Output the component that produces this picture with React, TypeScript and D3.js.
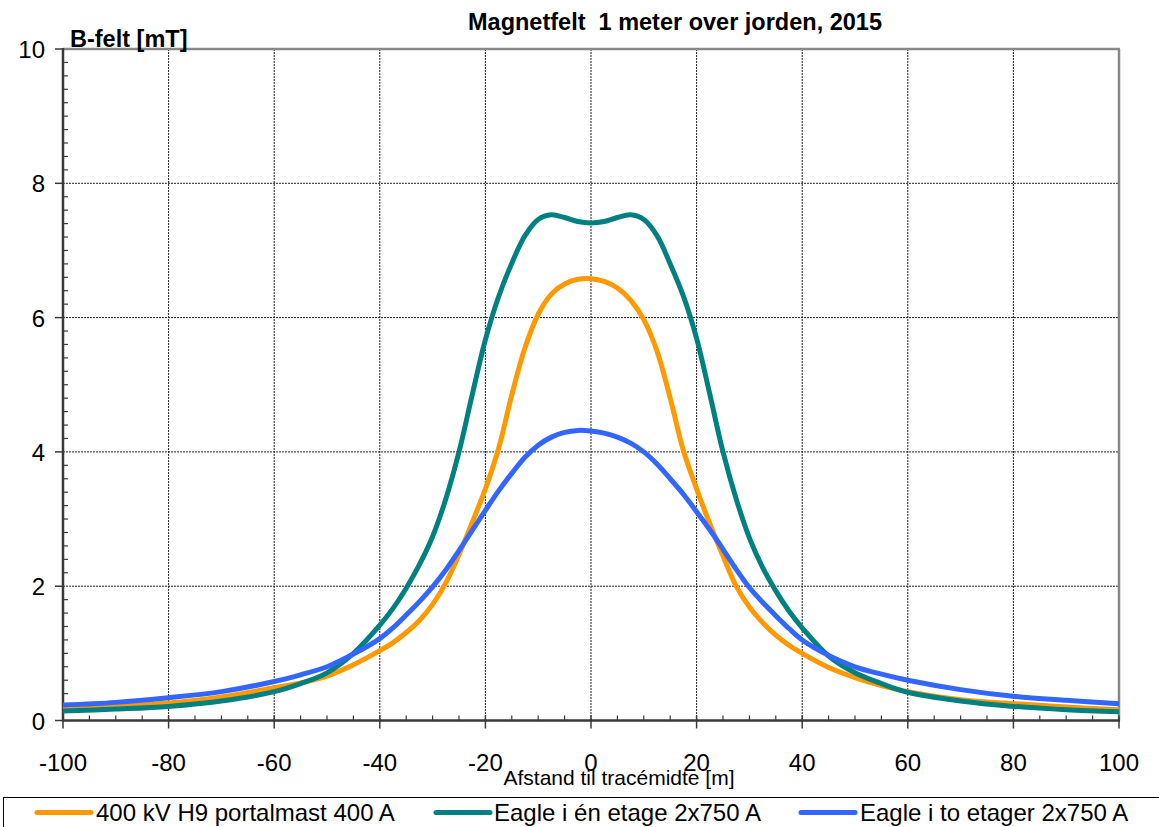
import React from 'react';
import * as d3 from 'd3';

const W = 1159;
const H = 827;

// Distance to line centre [m]
const distances = [-100, -90, -80, -70, -60, -55, -50, -45, -40, -37.5, -35, -32.5, -30, -27.5, -25, -22.5, -20, -17.5, -15, -12.5, -10, -7.5, -5, -2.5, 0, 2.5, 5, 7.5, 10, 12.5, 15, 17.5, 20, 22.5, 25, 27.5, 30, 32.5, 35, 37.5, 40, 45, 50, 55, 60, 70, 80, 90, 100];

// B-field [mT]
const portalmast = [0.17, 0.21, 0.26, 0.35, 0.49, 0.56, 0.66, 0.83, 1.04, 1.16, 1.31, 1.49, 1.73, 2.05, 2.47, 2.95, 3.45, 4.05, 4.85, 5.55, 6.05, 6.35, 6.5, 6.57, 6.58, 6.54, 6.44, 6.26, 5.97, 5.5, 4.8, 4.02, 3.45, 2.93, 2.45, 2.0, 1.69, 1.46, 1.27, 1.12, 1.0, 0.79, 0.64, 0.52, 0.43, 0.31, 0.25, 0.2, 0.16];
const eagleEnEtage = [0.14, 0.17, 0.21, 0.29, 0.43, 0.55, 0.71, 1.0, 1.42, 1.67, 1.97, 2.32, 2.74, 3.3, 4.0, 4.85, 5.67, 6.31, 6.81, 7.22, 7.46, 7.53, 7.49, 7.43, 7.41, 7.43, 7.49, 7.53, 7.46, 7.22, 6.8, 6.32, 5.69, 4.86, 4.0, 3.3, 2.72, 2.28, 1.93, 1.63, 1.38, 0.96, 0.71, 0.55, 0.42, 0.29, 0.21, 0.16, 0.13];
const eagleToEtager = [0.23, 0.27, 0.34, 0.43, 0.58, 0.68, 0.8, 0.99, 1.22, 1.38, 1.57, 1.77, 1.99, 2.24, 2.53, 2.83, 3.13, 3.42, 3.68, 3.92, 4.1, 4.22, 4.29, 4.32, 4.31, 4.28, 4.22, 4.13, 4.0, 3.82, 3.6, 3.37, 3.11, 2.84, 2.55, 2.25, 1.98, 1.76, 1.56, 1.37, 1.2, 0.97, 0.8, 0.69, 0.6, 0.46, 0.36, 0.3, 0.25];

const seriesNames = ['400 kV H9 portalmast 400 A', 'Eagle i én etage 2x750 A', 'Eagle i to etager 2x750 A'];
const seriesColors = ['#FF9900', '#008080', '#3366FF'];
const seriesValues = [portalmast, eagleEnEtage, eagleToEtager];

const xTicks = [-100, -80, -60, -40, -20, 0, 20, 40, 60, 80, 100];
const yTicks = [0, 2, 4, 6, 8, 10];

const titleText = 'Magnetfelt  1 meter over jorden, 2015';
const yTitle = 'B-felt [mT]';
const xTitle = 'Afstand til tracémidte [m]';

const FONT = '"Liberation Sans", Arial, Helvetica, sans-serif';

export default function App() {
  const x = d3.scaleLinear().domain([-100, 100]).range([63, 1119]);
  const y = d3.scaleLinear().domain([0, 10]).range([720.5, 49]);

  const xMinor = d3.range(-100, 100.001, 5).filter((v) => Math.abs(v % 20) > 1e-6);
  const yMinor = d3.range(0, 10.001, 0.2).filter((v) => Math.abs(v / 2 - Math.round(v / 2)) > 1e-6);

  const line = d3
    .line<number>()
    .x((_, i) => x(distances[i]))
    .y((d) => y(d))
    .curve(d3.curveCatmullRom.alpha(0.5));

  const [x0, x1] = x.range();
  const [y0, y1] = y.range();

  const legendItems = [
    { lx: 37, tx: 96 },
    { lx: 436, tx: 494 },
    { lx: 801, tx: 860 },
  ];

  return (
    <div style={{ position: 'absolute', left: 0, top: 0 }}>
      <svg width={W} height={H} style={{ display: 'block', background: '#fff' }} fontFamily={FONT}>
        <rect x={0} y={0} width={W} height={H} fill="#fff" />
        {/* grid */}
        {xTicks.slice(1, -1).map((t) => (
          <line key={'gx' + t} x1={x(t)} x2={x(t)} y1={y1} y2={y0} stroke="#222" strokeWidth={1} strokeDasharray="2,1" />
        ))}
        {yTicks.slice(1, -1).map((t) => (
          <line key={'gy' + t} x1={x0} x2={x1} y1={y(t)} y2={y(t)} stroke="#222" strokeWidth={1} strokeDasharray="2,1" />
        ))}
        {/* top & right border */}
        <line x1={x0} x2={x1 + 1} y1={y1} y2={y1} stroke="#888" strokeWidth={2.5} />
        <line x1={x1} x2={x1} y1={y1} y2={y0} stroke="#888" strokeWidth={2.5} />
        {/* y axis */}
        <line x1={x0} x2={x0} y1={y1 - 1} y2={y0 + 1} stroke="#3a3a3a" strokeWidth={2.5} />
        {yTicks.map((t) => (
          <line key={'yt' + t} x1={x0 - 8} x2={x0} y1={y(t)} y2={y(t)} stroke="#3a3a3a" strokeWidth={1.5} />
        ))}
        {yMinor.map((t) => (
          <line key={'ym' + t} x1={x0} x2={x0 + 5} y1={y(t)} y2={y(t)} stroke="#3a3a3a" strokeWidth={1.2} />
        ))}
        {yTicks.map((t) => (
          <text key={'yl' + t} x={45} y={y(t) + 9} textAnchor="end" fontSize={24} fill="#000">
            {t}
          </text>
        ))}
        {/* x axis */}
        <line x1={x0 - 1} x2={x1 + 1} y1={y0} y2={y0} stroke="#3a3a3a" strokeWidth={2.5} />
        {xTicks.map((t) => (
          <line key={'xt' + t} x1={x(t)} x2={x(t)} y1={y0 - 5} y2={y0 + 8} stroke="#3a3a3a" strokeWidth={1.5} />
        ))}
        {xMinor.map((t) => (
          <line key={'xm' + t} x1={x(t)} x2={x(t)} y1={y0 - 5} y2={y0} stroke="#3a3a3a" strokeWidth={1.2} />
        ))}
        {xTicks.map((t) => (
          <text key={'xl' + t} x={x(t)} y={771} textAnchor="middle" fontSize={24} fill="#000">
            {t}
          </text>
        ))}
        {/* series */}
        {seriesValues.map((vals, i) => (
          <path
            key={'s' + i}
            d={line(vals) || ''}
            fill="none"
            stroke={seriesColors[i]}
            strokeWidth={5}
            strokeLinejoin="round"
          />
        ))}
        {/* titles */}
        <text
          x={675}
          y={30}
          textAnchor="middle"
          fontSize={23.5}
          fontWeight="bold"
          fill="#000"
          style={{ whiteSpace: 'pre' }}
          xmlSpace="preserve"
        >
          {titleText}
        </text>
        <text x={70} y={47} fontSize={23.5} fontWeight="bold" fill="#000">
          {yTitle}
        </text>
        <text x={619} y={785} textAnchor="middle" fontSize={21} fill="#000">
          {xTitle}
        </text>
        {/* legend */}
        <rect x={3.5} y={797.5} width={1170} height={60} fill="#fff" stroke="#000" strokeWidth={1} />
        {seriesNames.map((name, i) => (
          <g key={'lg' + i}>
            <line
              x1={legendItems[i].lx}
              x2={legendItems[i].lx + 54}
              y1={812.5}
              y2={812.5}
              stroke={seriesColors[i]}
              strokeWidth={5}
              strokeLinecap="round"
            />
            <text x={legendItems[i].tx} y={821} fontSize={24} fill="#000">
              {name}
            </text>
          </g>
        ))}
      </svg>
    </div>
  );
}
